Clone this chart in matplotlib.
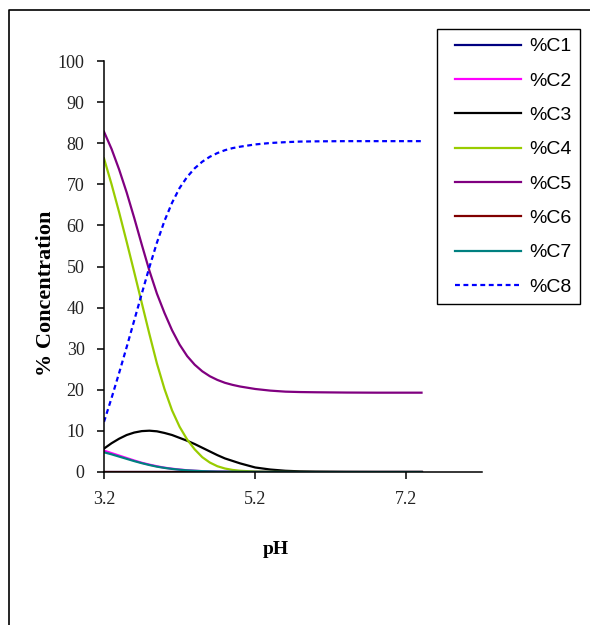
import matplotlib
matplotlib.use("Agg")
import matplotlib.pyplot as plt
from matplotlib.lines import Line2D
from matplotlib.legend_handler import HandlerLine2D

pH = [3.2, 3.3, 3.4, 3.5, 3.6, 3.7, 3.8, 3.9, 4.0, 4.1, 4.2, 4.3, 4.4, 4.5,
      4.6, 4.7, 4.8, 4.9, 5.0, 5.2, 5.4, 5.6, 5.8, 6.0, 6.4, 6.8, 7.2, 7.4]

C1 = [0.0] * len(pH)
C2 = [5.2, 4.6, 4.0, 3.4, 2.8, 2.25, 1.8, 1.4, 1.05, 0.8, 0.6, 0.42, 0.3, 0.21,
      0.15, 0.1, 0.08, 0.06, 0.05, 0.03, 0.02, 0.01, 0.0, 0.0, 0.0, 0.0, 0.0, 0.0]
C3 = [5.7, 7.0, 8.1, 9.0, 9.6, 9.95, 10.05, 9.9, 9.5, 9.0, 8.3, 7.6, 6.8, 5.9,
      5.0, 4.1, 3.3, 2.7, 2.1, 1.1, 0.6, 0.3, 0.15, 0.08, 0.02, 0.0, 0.0, 0.0]
C4 = [76.3, 70.0, 63.2, 56.0, 48.6, 41.1, 33.6, 26.4, 20.2, 15.0, 11.0, 7.9, 5.5, 3.6,
      2.3, 1.4, 0.85, 0.5, 0.3, 0.1, 0.03, 0.0, 0.0, 0.0, 0.0, 0.0, 0.0, 0.0]
C5 = [82.8, 78.6, 73.6, 68.0, 61.8, 55.3, 49.0, 43.4, 38.7, 34.5, 31.0, 28.2, 26.1, 24.5,
      23.3, 22.4, 21.7, 21.2, 20.8, 20.2, 19.8, 19.55, 19.45, 19.4, 19.33, 19.3, 19.3, 19.3]
C6 = [0.0] * len(pH)
C7 = [4.8, 4.3, 3.75, 3.2, 2.65, 2.15, 1.7, 1.3, 1.0, 0.75, 0.55, 0.4, 0.3, 0.2,
      0.15, 0.1, 0.08, 0.06, 0.05, 0.03, 0.02, 0.01, 0.0, 0.0, 0.0, 0.0, 0.0, 0.0]
C8 = [12.2, 18.0, 24.1, 30.4, 36.9, 43.4, 49.8, 55.8, 61.1, 65.5, 69.1, 71.8, 73.9, 75.5,
      76.7, 77.6, 78.3, 78.8, 79.15, 79.7, 80.05, 80.25, 80.4, 80.45, 80.5, 80.5, 80.5, 80.5]

labels = ["%C1", "%C2", "%C3", "%C4", "%C5", "%C6", "%C7", "%C8"]
xticks = [3.2, 5.2, 7.2]
yticks = list(range(0, 101, 10))

series = [C1, C2, C3, C4, C5, C6, C7, C8]
colors = ["#000080", "#FF00FF", "#000000", "#99CC00", "#800080", "#800000", "#008080", "#0000FF"]
styles = ["-"] * 7 + [(0, (2.2, 1.6))]

W, H = 590, 625
fig = plt.figure(figsize=(W / 100, H / 100), dpi=100)
fig.patch.set_facecolor("white")

ax = fig.add_axes([104 / W, 1 - 472 / H, (482 - 104) / W, (472 - 61) / H])
for ys, c, ls, lab in zip(series, colors, styles, labels):
    ax.plot(pH, ys, color=c, linestyle=ls, linewidth=1.6, label=lab)

ax.set_xlim(3.2, 8.2)
ax.set_ylim(0, 100)
ax.set_xticks(xticks)
ax.set_xticklabels([f"{v:.1f}" for v in xticks])
ax.set_yticks(yticks)
for s in ["top", "right"]:
    ax.spines[s].set_visible(False)
for s in ["left", "bottom"]:
    ax.spines[s].set_linewidth(1.1)
ax.tick_params(axis="both", direction="out", length=5, width=1.1, pad=9,
               labelsize=13, labelcolor="#222222")
for t in ax.get_xticklabels() + ax.get_yticklabels():
    t.set_family("Liberation Serif")

fig.text(46 / W, 1 - 293 / H, "% Concentration", rotation=90, ha="center", va="center",
         family="Liberation Serif", fontweight="bold", fontsize=16)
fig.text(276 / W, 1 - 549 / H, "pH", ha="center", va="center",
         family="Liberation Serif", fontweight="bold", fontsize=14)

handles, labs = ax.get_legend_handles_labels()
leg = fig.legend(handles, labs, loc="upper left", bbox_to_anchor=(437 / W, 1 - 29 / H),
                 bbox_transform=fig.transFigure, borderaxespad=0.0,
                 fancybox=False, frameon=True, framealpha=1.0,
                 edgecolor="black", borderpad=0.45, handlelength=4.3, handletextpad=0.0,
                 labelspacing=0.86, prop={"family": "Liberation Sans", "size": 14},
                 handler_map={Line2D: HandlerLine2D(numpoints=2, marker_pad=0.45)})
leg.get_frame().set_linewidth(1.0)

fig.add_artist(Line2D([9 / W, 9 / W, 1.0], [0.0, 1 - 10 / H, 1 - 10 / H],
                      transform=fig.transFigure, color="black", linewidth=1.2))

fig.savefig("out.png", dpi=100, facecolor="white")
